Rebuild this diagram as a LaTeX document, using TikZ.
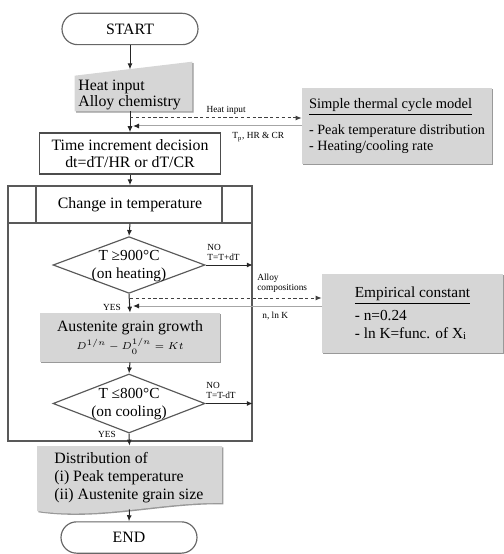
\documentclass[tikz,border=0pt]{standalone}
\usepackage{fontspec}
\setmainfont{Liberation Serif}
\usetikzlibrary{arrows.meta,shapes.geometric,shadows}
\begin{document}
\begin{tikzpicture}[x=0.6pt,y=-0.6pt,
  font=\fontsize{9.5}{9.8}\selectfont,
  arr/.style={-{Latex[length=3.6pt,width=3pt]}, draw=black!85, line width=0.6pt},
  term/.style={draw=black!60, line width=0.7pt, rounded corners=9.4pt, minimum width=81.6pt, minimum height=18.8pt, inner sep=0pt},
  procbox/.style={draw=black!70, line width=0.9pt, minimum width=108.6pt, minimum height=24.6pt, inner sep=0pt, align=center},
  grayfill/.style={fill=black!16, drop shadow={shadow xshift=0.8pt, shadow yshift=-0.8pt, fill=black!40, opacity=1}},
  graybox/.style={grayfill, inner sep=0pt},
  dec/.style={diamond, draw=black!65, line width=0.7pt, minimum width=91.2pt, minimum height=34pt, inner sep=0pt},
  small/.style={font=\fontsize{5.6}{6}\selectfont, inner sep=0pt},
  loopline/.style={draw=black!65, line width=0.9pt},
  dashedarrow/.style={-{Latex[length=3.6pt,width=3pt]}, dash pattern=on 2pt off 1.5pt, draw=black!75, line width=0.6pt},
  retarrow/.style={-{Latex[length=3.6pt,width=3pt,color=black!85]}, draw=black!35, line width=0.6pt},
]
\useasboundingbox (0,0) rectangle (503,554);

% START
\node[term] (start) at (130,29) {START};

% Heat input (manual input shape)
\node[minimum width=70.2pt, minimum height=29.4pt, inner sep=0pt] (heat) at (133.5,86.5) {};
\path[grayfill] (heat.south west) -- (heat.south east) -- (heat.north east) -- ([yshift=-8.4pt]heat.north west) -- cycle;
\node[anchor=west, align=left, inner sep=0pt, font=\fontsize{9.5}{9.2}\selectfont] (heattxt) at (78,95) {Heat input\\Alloy chemistry};
\coordinate (htop) at (130,69.4);

% Time increment
\node[procbox] (time) at (130,153.5) {Time increment decision\\dt=dT/HR or dT/CR};

% Simple thermal cycle model
\node[graybox, minimum width=114pt, minimum height=45.6pt, align=left, font=\fontsize{8.5}{9.2}\selectfont] (simple) at (397,126)
  {\underline{\fontsize{8.7}{9.2}\selectfont Simple thermal cycle model}\\[4.8pt]- Peak temperature distribution\\- Heating/cooling rate};

% Loop box
\node[loopline, minimum width=146.4pt, minimum height=153pt, inner sep=0pt] (loop) at (130,313.5) {};
\node[loopline, minimum width=146.4pt, minimum height=22.2pt, inner sep=0pt] (head) at (130,204.5) {Change in temperature};
\coordinate (hl) at (36,0);
\coordinate (hr) at (222,0);
\draw[loopline] (head.north -| hl) -- (head.south -| hl);
\draw[loopline] (head.north -| hr) -- (head.south -| hr);

% Decision 1
\node[dec] (d1) at (129,265) {};
\node[align=center, inner sep=0pt, font=\fontsize{9.2}{10.8}\selectfont] (d1t) at (129,266) {T ≥900°C\\(on heating)};

% Austenite grain growth
\node[graybox, minimum width=108pt, minimum height=29.4pt, align=center, font=\fontsize{9.5}{11}\selectfont] (aust) at (130,337.5)
  {Austenite grain growth\\{\fontsize{6.4}{8}\selectfont $D^{1/n}-D_0^{1/n}=Kt$}};

% Empirical constant
\node[graybox, minimum width=108.6pt, minimum height=47.4pt, align=left, font=\fontsize{9.2}{10.6}\selectfont] (emp) at (412.5,313.5)
  {\underline{Empirical constant}\\[3pt]- n=0.24\\- ln K=func. of X$_\mathrm{i}$};

% Decision 2
\node[dec, minimum height=35.4pt] (d2) at (129,403.5) {};
\node[align=center, inner sep=0pt, font=\fontsize{9.2}{10.8}\selectfont] (d2t) at (129,404) {T ≤800°C\\(on cooling)};

% Distribution (document shape)
\node[minimum width=111pt, minimum height=37.8pt, inner sep=0pt] (dist) at (129.5,477.5) {};
\path[grayfill] (37,446) -- (222,446) -- (222,503) .. controls (160,502) and (100,520) .. (37,511) -- cycle;
\node[anchor=west, align=left, inner sep=0pt, font=\fontsize{9.5}{10.8}\selectfont] (distt) at (54,478)
  {Distribution of\\(i) Peak temperature\\(ii) Austenite grain size};

% END
\node[term] (end) at (129,537.5) {END};

% Connectors along the spine
\draw[arr] (start.south) -- (htop);
\draw[arr] (heat.south -| time.north) -- (time.north);
\draw[arr] (time.south) -- (head.north);
\draw[arr] (head.south) -- (d1.north);
\draw[arr] (d1.south) -- (aust.north);
\draw[arr] (aust.south) -- (d2.north);
\draw[arr] (d2.south) -- (dist.north);
\draw[arr] (dist.south) -- (end.north);

% Heat input exchange
\coordinate (j1) at (130,118);
\coordinate (j2) at (133,126);
\draw[dashedarrow] (j1) -- (j1 -| simple.west) node[small, pos=0.56, above=2pt] (hilab) {Heat input};
\draw[retarrow] (j2 -| simple.west) -- (j2);
\node[small, anchor=west] (tp) at (232,137) {T$_\mathrm{p}$, HR \& CR};

% Decision 1 NO / YES
\draw[arr] (d1.east) -- (d1.east -| loop.east);
\node[small, anchor=south west, align=left] (no1) at (207,261) {NO\\T=T+dT};
\node[small] (yes1) at (112,307) {YES};

% Alloy compositions exchange
\coordinate (j3) at (130,298);
\coordinate (j4) at (133,306);
\draw[dashedarrow] (j3) -- (j3 -| emp.west);
\draw[retarrow] (j4 -| emp.west) -- (j4);
\node[small, align=left, anchor=west] (alloy) at (257,283) {Alloy\\compositions};
\node[small, anchor=west] (nk) at (262,316) {n, ln K};

% Decision 2 NO / YES
\draw[arr] (d2.east) -- (d2.east -| loop.east);
\node[small, anchor=south west, align=left] (no2) at (206,399) {NO\\T=T-dT};
\node[small] (yes2) at (107,434) {YES};
\end{tikzpicture}
\end{document}
